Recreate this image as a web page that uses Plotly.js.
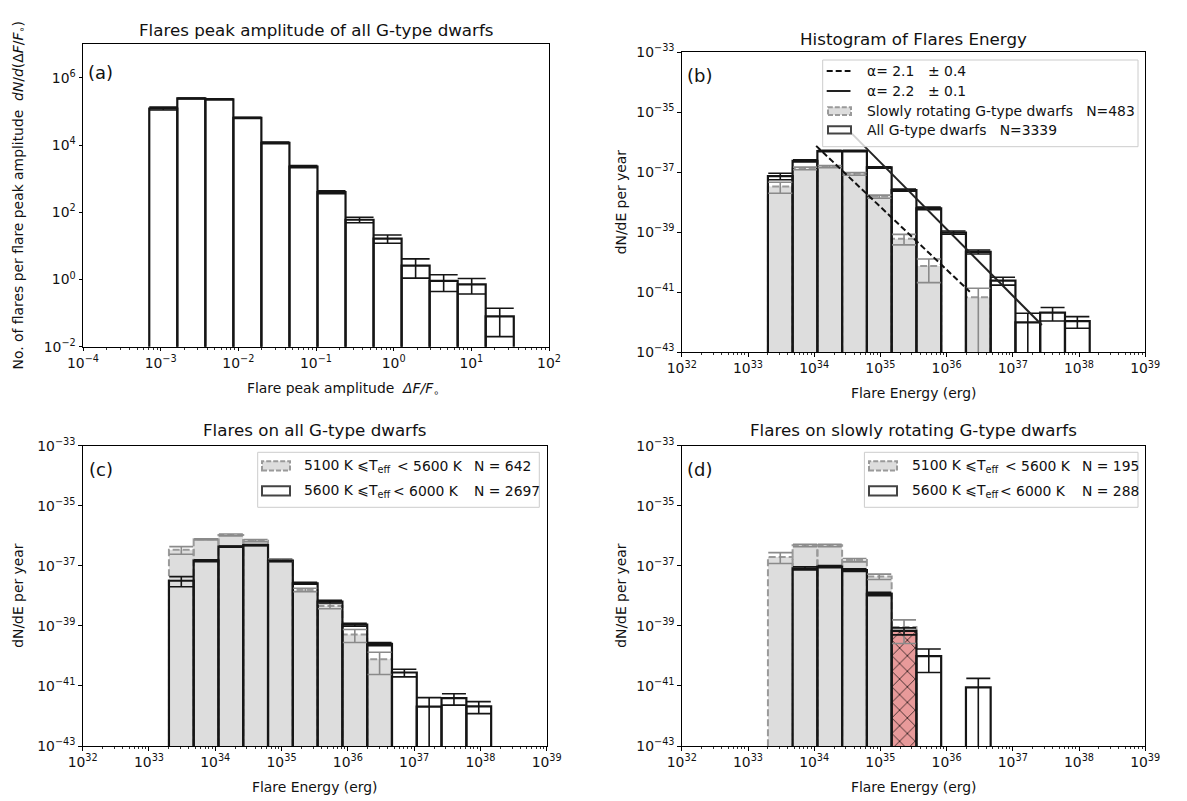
<!DOCTYPE html>
<html><head><meta charset="utf-8">
<script src="https://cdn.plot.ly/plotly-3.0.1.min.js"></script>
<style>body{margin:0;background:#fff}#chart{width:1187px;height:801px}</style>
</head><body><div id="chart"></div>
<script>
// ================= DATA =================
// (a) peak amplitude histogram
const ampBinEdges = [7.13e-4, 1.637e-3, 3.76e-3, 8.63e-3, 1.98e-2, 4.55e-2, 0.1045, 0.240, 0.551, 1.265, 2.904, 6.67, 15.31, 35.2];
const ampCounts   = [1.23e5, 2.45e5, 2.3e5, 6.5e4, 1.17e4, 2.3e3, 400, 60, 16.5, 2.6, 0.91, 0.72, 0.08];
const ampErrors   = [1.2e4, 7e3, 7e3, 2.6e3, 6e2, 1.6e2, 40, 11, 4.5, 1.5, 0.47, 0.35, 0.06];

// energy bins shared by (b), (c), (d)
const energyBinEdges = [2.00e33, 4.72e33, 1.117e34, 2.64e34, 6.25e34, 1.479e35, 3.50e35, 8.28e35, 1.96e36, 4.63e36, 1.096e37, 2.59e37, 6.14e37, 1.452e38];

// (b) all G-type vs slowly rotating
const allG      = [7.5e-38, 2.4e-37, 5.13e-37, 5.13e-37, 1.45e-37, 2.57e-38, 6.3e-39, 9.8e-40, 2.24e-40, 2.45e-41, 1.0e-42, 2.1e-42, 1.09e-42];
const allGErr   = [1.85e-38, 1.9e-38, 2.6e-38, 2.6e-38, 8.7e-39, 2.1e-39, 6.3e-40, 1.2e-40, 3.4e-41, 7.1e-42, 1.0e-42, 1.0e-42, 4.6e-43];
const slowG     = [3.34e-38, 1.35e-37, 1.55e-37, 8.9e-38, 1.55e-38, 6.15e-40, 7.5e-41, 0, 6.8e-42, 0, 0, 0, 0];
const slowGErr  = [1.34e-38, 1.35e-38, 1.24e-38, 8.9e-39, 1.9e-39, 2.35e-40, 5.4e-41, 0, 6.8e-42, 0, 0, 0, 0];
// power-law fits (end points)
const fit21E = [1.07e34, 2.24e36];  const fit21N = [7.6e-37, 1.05e-41];
const fit22E = [3.55e34, 2.75e37];  const fit22N = [2.14e-36, 8.1e-43];

// (c) all G-type dwarfs split by Teff
const coolAll    = [3.4e-37, 7.6e-37, 1.07e-36, 6.9e-37, 1.55e-37, 1.58e-38, 4.6e-39, 5.2e-40, 7.8e-41, 0, 0, 0, 0];
const coolAllErr = [9.6e-38, 4e-38, 7.5e-38, 5.5e-38, 1.55e-38, 2.1e-39, 9e-40, 2.4e-40, 5.4e-41, 0, 0, 0, 0];
const hotAll     = [3.18e-38, 1.48e-37, 4.37e-37, 4.9e-37, 1.45e-37, 2.63e-38, 6.46e-39, 1.1e-39, 2.5e-40, 2.8e-41, 2.04e-42, 3.9e-42, 2.1e-42];
const hotAllErr  = [1.18e-38, 1.0e-38, 2.2e-38, 2.5e-38, 8.7e-39, 2.1e-39, 6.5e-40, 1.3e-40, 3.0e-41, 8e-42, 2.04e-42, 1.6e-42, 9e-43];

// (d) slowly rotating G-type dwarfs split by Teff
const coolSlow    = [1.98e-37, 4.8e-37, 4.8e-37, 1.55e-37, 4.4e-38, 9.2e-40, 0, 0, 0, 0, 0, 0, 0];
const coolSlowErr = [7.8e-38, 4.5e-38, 4.5e-38, 2.0e-38, 9e-39, 6.6e-40, 0, 0, 0, 0, 0, 0, 0];
const hotSlow     = [0, 8.3e-38, 9.5e-38, 7.2e-38, 1.17e-38, 6.8e-40, 9.9e-41, 0, 8.9e-42, 0, 0, 0, 0];
const hotSlowErr  = [0, 1.0e-38, 8e-39, 7e-39, 1.5e-39, 1.8e-40, 7.1e-41, 0, 8.9e-42, 0, 0, 0, 0];
const highlightSlowBins = [5];

// tick exponents
const ampXTickExp = [-4, -3, -2, -1, 0, 1, 2];
const ampYTickExp = [-2, 0, 2, 4, 6];
const energyXTickExp = [32, 33, 34, 35, 36, 37, 38, 39];
const rateYTickExp = [-43, -41, -39, -37, -35, -33];

// ================= HELPERS =================
const W = 1187, H = 801, FONT = 'DejaVu Sans';
const fx = p => p / W, fy = p => 1 - p / H;
const lab = e => '10<sup>' + (e < 0 ? '\u2212' + (-e) : String(e)) + '</sup>';
const GRAY_FILL = '#dddddd', GRAY_EDGE = '#9a9a9a', BLACK = '#151515';
const TITLE_SIZE = 16.7, LABEL_SIZE = 13.9, TICK_SIZE = 13.9, LEG_SIZE = 13.9, PANEL_SIZE = 18;

function rects(edges, vals, base, pick) {
  const x = [], y = [];
  vals.forEach((v, i) => {
    if (!(v > 0)) return;
    if (pick && pick.indexOf(i) < 0) return;
    x.push(edges[i], edges[i], edges[i + 1], edges[i + 1], edges[i], null);
    y.push(base, v, v, base, base, null);
  });
  return {x, y};
}
function fillT(ax, edges, vals, base, color, pick, extra) {
  const r = rects(edges, vals, base, pick);
  return Object.assign({type: 'scatter', mode: 'lines', x: r.x, y: r.y, xaxis: ax[0], yaxis: ax[1],
    fill: 'toself', fillcolor: color, line: {width: 0}, hoverinfo: 'skip', showlegend: false}, extra || {});
}
function lineT(ax, edges, vals, base, color, width, dash) {
  const r = rects(edges, vals, base);
  return {type: 'scatter', mode: 'lines', x: r.x, y: r.y, xaxis: ax[0], yaxis: ax[1],
    line: {color: color, width: width, dash: dash || 'solid'}, hoverinfo: 'skip', showlegend: false};
}
function errT(ax, edges, vals, errs, color, half) {
  const xc = edges.slice(0, -1).map((e, i) => Math.sqrt(e * edges[i + 1]));
  return {type: 'scatter', mode: 'markers', x: xc, y: vals.map(v => v > 0 ? v : null), xaxis: ax[0], yaxis: ax[1],
    marker: {size: 1, color: 'rgba(0,0,0,0)'}, hoverinfo: 'skip', showlegend: false,
    error_y: {type: 'data', array: errs, symmetric: true, visible: true, color: color, thickness: 1.6, width: half}};
}

const traces = [];
const A = ['x', 'y'], B = ['x2', 'y2'], C = ['x3', 'y3'], D = ['x4', 'y4'];
const EBASE = 1e-48;

// (a)
traces.push(fillT(A, ampBinEdges, ampCounts, 1e-4, '#ffffff'));
traces.push(lineT(A, ampBinEdges, ampCounts, 1e-4, BLACK, 2.2));
traces.push(errT(A, ampBinEdges, ampCounts, ampErrors, BLACK, 14));

// (b)
traces.push(fillT(B, energyBinEdges, allG, EBASE, '#ffffff'));
traces.push(fillT(B, energyBinEdges, slowG, EBASE, GRAY_FILL));
traces.push(lineT(B, energyBinEdges, slowG, EBASE, GRAY_EDGE, 2, '7px,3px'));
traces.push(lineT(B, energyBinEdges, allG, EBASE, BLACK, 2.2));
traces.push(errT(B, energyBinEdges, slowG, slowGErr, '#8a8a8a', 12));
traces.push(errT(B, energyBinEdges, allG, allGErr, BLACK, 12));
traces.push({type: 'scatter', mode: 'lines', x: fit21E, y: fit21N, xaxis: 'x2', yaxis: 'y2',
  line: {color: '#111', width: 2, dash: '6px,3px'}, hoverinfo: 'skip', showlegend: false});
traces.push({type: 'scatter', mode: 'lines', x: fit22E, y: fit22N, xaxis: 'x2', yaxis: 'y2',
  line: {color: '#222', width: 2}, hoverinfo: 'skip', showlegend: false});

// (c)
traces.push(fillT(C, energyBinEdges, hotAll, EBASE, '#ffffff'));
traces.push(fillT(C, energyBinEdges, coolAll, EBASE, GRAY_FILL));
traces.push(lineT(C, energyBinEdges, coolAll, EBASE, GRAY_EDGE, 2, '7px,3px'));
traces.push(lineT(C, energyBinEdges, hotAll, EBASE, BLACK, 2.2));
traces.push(errT(C, energyBinEdges, coolAll, coolAllErr, '#8a8a8a', 12));
traces.push(errT(C, energyBinEdges, hotAll, hotAllErr, BLACK, 12));

// (d)
traces.push(fillT(D, energyBinEdges, hotSlow, EBASE, '#ffffff'));
traces.push(fillT(D, energyBinEdges, coolSlow, EBASE, GRAY_FILL));
traces.push(lineT(D, energyBinEdges, coolSlow, EBASE, GRAY_EDGE, 2, '7px,3px'));
traces.push(fillT(D, energyBinEdges, hotSlow, EBASE, '#e89a9a', highlightSlowBins,
  {fillpattern: {shape: 'x', fgcolor: '#000000', bgcolor: '#e89a9a', size: 11, solidity: 0.12}}));
traces.push(lineT(D, energyBinEdges, hotSlow, EBASE, BLACK, 2.2));
traces.push(errT(D, energyBinEdges, coolSlow, coolSlowErr, '#8a8a8a', 12));
traces.push(errT(D, energyBinEdges, hotSlow, hotSlowErr, BLACK, 12));

// ================= LAYOUT =================
function xAx(d, range, exps, anchor) {
  return {domain: [fx(d[0]), fx(d[1])], type: 'log', range: range, anchor: anchor,
    tickmode: 'array', tickvals: exps.map(e => Math.pow(10, e)), ticktext: exps.map(lab),
    ticks: 'outside', ticklen: 3.5, tickwidth: 1, tickcolor: '#000',
    showline: true, linecolor: '#000', linewidth: 1, mirror: true, showgrid: false, zeroline: false,
    tickfont: {family: FONT, size: TICK_SIZE, color: '#111'},
    minor: {ticks: 'outside', ticklen: 2, tickwidth: 0.8, tickcolor: '#000', dtick: 'D1', showgrid: false},
    fixedrange: true};
}
function yAx(d, range, exps, anchor) {
  return {domain: [fy(d[1]), fy(d[0])], type: 'log', range: range, anchor: anchor,
    tickmode: 'array', tickvals: exps.map(e => Math.pow(10, e)), ticktext: exps.map(lab),
    ticks: 'outside', ticklen: 3.5, tickwidth: 1, tickcolor: '#000',
    showline: true, linecolor: '#000', linewidth: 1, mirror: true, showgrid: false, zeroline: false,
    tickfont: {family: FONT, size: TICK_SIZE, color: '#111'}, fixedrange: true};
}

const annotations = [];
function ann(text, x, y, size, o) {
  annotations.push(Object.assign({text: text, x: fx(x), y: fy(y), xref: 'paper', yref: 'paper',
    showarrow: false, xanchor: 'center', yanchor: 'middle', font: {family: FONT, size: size, color: '#111'}}, o || {}));
}
const shapes = [];
function rectPx(x0, y0, x1, y1, fill, line) {
  shapes.push({type: 'rect', xref: 'paper', yref: 'paper', x0: fx(x0), x1: fx(x1), y0: fy(y1), y1: fy(y0),
    fillcolor: fill, line: line, layer: 'above'});
}
function linePx(x0, y0, x1, y1, line) {
  shapes.push({type: 'line', xref: 'paper', yref: 'paper', x0: fx(x0), x1: fx(x1), y0: fy(y0), y1: fy(y1),
    line: line, layer: 'above'});
}
const NB = '\u00a0';

// titles
ann('Flares peak amplitude of all G-type dwarfs', 316, 30, TITLE_SIZE);
ann('Histogram of Flares Energy', 913.5, 38.5, TITLE_SIZE);
ann('Flares on all G-type dwarfs', 314.7, 430, TITLE_SIZE);
ann('Flares on slowly rotating G-type dwarfs', 913.5, 430, TITLE_SIZE);
// panel labels
ann('(a)', 100.5, 72.5, PANEL_SIZE);
ann('(b)', 699.4, 75.8, PANEL_SIZE);
ann('(c)', 100.5, 469.5, PANEL_SIZE);
ann('(d)', 699.4, 469.5, PANEL_SIZE);
// axis titles
ann('Flare peak amplitude  <i>ΔF/F</i><sub>∘</sub>', 343, 389, LABEL_SIZE);
ann('Flare Energy (erg)', 913.5, 393, LABEL_SIZE);
ann('Flare Energy (erg)', 314.7, 786.5, LABEL_SIZE);
ann('Flare Energy (erg)', 913.5, 786.5, LABEL_SIZE);
ann('No. of flares per flare peak amplitude  <i>dN</i>/<i>d</i>(Δ<i>F</i>/<i>F</i><sub>∘</sub>)', 18, 195.5, LABEL_SIZE, {textangle: -90});
ann('dN/dE per year', 621, 202.3, LABEL_SIZE, {textangle: -90});
ann('dN/dE per year', 18, 595.8, LABEL_SIZE, {textangle: -90});
ann('dN/dE per year', 621, 595.8, LABEL_SIZE, {textangle: -90});

// legend (b)
const frame = {color: '#cccccc', width: 1};
rectPx(822.7, 60, 1138, 146.7, 'rgba(255,255,255,0.8)', frame);
linePx(826.7, 71, 850.5, 71, {color: '#111', width: 2, dash: '6px,3px'});
linePx(826.7, 91, 850.5, 91, {color: '#222', width: 2});
rectPx(828, 107.2, 851, 115, GRAY_FILL, {color: GRAY_EDGE, width: 2, dash: '5px,2px'});
rectPx(828, 126.2, 851, 133.6, '#ffffff', {color: '#444', width: 2});
const lgL = {xanchor: 'left'};
ann('α= 2.1', 865, 71, LEG_SIZE, lgL);   ann('± 0.4', 926, 71, LEG_SIZE, lgL);
ann('α= 2.2', 865, 91, LEG_SIZE, lgL);   ann('± 0.1', 926, 91, LEG_SIZE, lgL);
ann('Slowly rotating G-type dwarfs' + NB + NB + NB + 'N=483', 865, 111, LEG_SIZE, lgL);
ann('All G-type dwarfs' + NB + NB + NB + 'N=3339', 865, 130, LEG_SIZE, lgL);

// legend (c) and (d)
function teffLegend(x0, x1, hx, tx, n1, n2) {
  rectPx(x0, 452.3, x1, 507.3, 'rgba(255,255,255,0.8)', frame);
  rectPx(hx, 461.2, hx + 28, 470.4, GRAY_FILL, {color: GRAY_EDGE, width: 2, dash: '5px,2px'});
  rectPx(hx, 486.2, hx + 28, 495.6, '#ffffff', {color: '#444', width: 2});
  ann('5100 K ⩽T<sub>eff</sub>', tx, 466, LEG_SIZE, lgL);
  ann('< 5600 K', tx + 93, 466, LEG_SIZE, lgL);
  ann('5600 K ⩽T<sub>eff</sub>', tx, 490.7, LEG_SIZE, lgL);
  ann('< 6000 K', tx + 88.5, 490.7, LEG_SIZE, lgL);
  ann('N = ' + n1, tx + 170, 466, LEG_SIZE, lgL);
  ann('N = ' + n2, tx + 170, 490.7, LEG_SIZE, lgL);
}
teffLegend(257.7, 539.3, 262, 302.3, 642, 2697);
teffLegend(864.4, 1138, 869, 909.5, 195, 288);

const layout = {
  width: W, height: H, margin: {l: 0, r: 0, t: 0, b: 0},
  paper_bgcolor: '#ffffff', plot_bgcolor: '#ffffff', showlegend: false,
  font: {family: FONT, color: '#111'},
  xaxis:  xAx([83, 549], [-4, 2], ampXTickExp, 'y'),
  yaxis:  yAx([44.3, 346.7], [-2, 7], ampYTickExp, 'x'),
  xaxis2: xAx([681.8, 1145.2], [32, 39], energyXTickExp, 'y2'),
  yaxis2: yAx([52.3, 352.3], [-43, -33], rateYTickExp, 'x2'),
  xaxis3: xAx([82.7, 546.7], [32, 39], energyXTickExp, 'y3'),
  yaxis3: yAx([445.7, 746], [-43, -33], rateYTickExp, 'x3'),
  xaxis4: xAx([681.8, 1145.2], [32, 39], energyXTickExp, 'y4'),
  yaxis4: yAx([445.7, 746], [-43, -33], rateYTickExp, 'x4'),
  annotations: annotations, shapes: shapes
};
Plotly.newPlot('chart', traces, layout, {staticPlot: true, displayModeBar: false});
</script></body></html>
